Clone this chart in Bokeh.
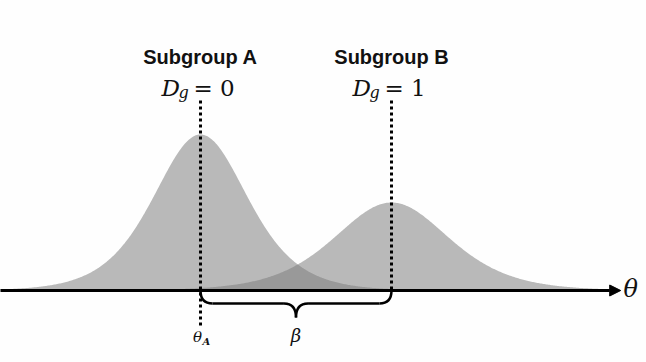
import numpy as np
from bokeh.plotting import figure
from bokeh.models import Range1d, Arrow, NormalHead
from bokeh.embed import file_html
from bokeh.resources import INLINE
from bokeh.core.properties import value

# ---- data (theta units) ----
group_names = ["Subgroup A", "Subgroup B"]
group_codes = ["0", "1"]
theta_A = 0.0
beta = 2.0
centers = [theta_A, theta_A + beta]
peak_heights = [1.0, 0.564]
spreads = [0.33, 0.403]          # logistic scale of each bell
theta_min, theta_max = -2.1, 4.40

# ---- figure ----
p = figure(width=646, height=362, output_backend="svg", toolbar_location=None,
           x_range=Range1d(-2.094, 4.670), y_range=Range1d(-0.4615, 1.859),
           min_border=0)
p.axis.visible = False
p.grid.visible = False
p.outline_line_color = None
p.background_fill_color = "#fefefe"
p.border_fill_color = "#fefefe"

theta = np.linspace(theta_min, 4.2, 600)
for c, h, s in zip(centers, peak_heights, spreads):
    dens = h / np.cosh((theta - c) / (2 * s)) ** 2
    p.varea(x=theta, y1=0, y2=dens, fill_color="#7e7e7e", fill_alpha=0.54)

# axis with arrow
p.add_layout(Arrow(end=NormalHead(size=11, fill_color="black", line_color="black", line_width=1),
                   x_start=theta_min, y_start=0, x_end=theta_max, y_end=0,
                   line_width=3, line_color="black"))
p.text(x=[theta_max + 0.03], y=[0.01], text=["θ"], text_font=value("DejaVu Serif"),
       text_font_style="italic", text_font_size="24px", text_align="left",
       text_baseline="middle", text_color="#111111")

# dotted guide lines
top = 1.218
p.segment(x0=centers, y0=[top, top], x1=centers, y1=[-0.224, 0.0],
          line_width=3, line_dash="3 3", line_color="black")

# group labels
p.text(x=centers, y=[1.50, 1.50], text=group_names, text_font=value("Liberation Sans"),
       text_font_style="bold", text_font_size="20px", text_align="center",
       text_baseline="middle", text_color="#111111")

base = 1.30
p.text(x=centers, y=[base, base], text=["D", "D"], x_offset=-39,
       text_font=value("DejaVu Serif"), text_font_style="italic", text_font_size="23px",
       text_align="left", text_baseline="alphabetic", text_color="#111111")
p.text(x=centers, y=[base, base], text=["g", "g"], x_offset=-22, y_offset=5,
       text_font=value("DejaVu Serif"), text_font_style="italic", text_font_size="16px",
       text_align="left", text_baseline="alphabetic", text_color="#111111")
p.text(x=centers, y=[base, base], text=["= " + g for g in group_codes], x_offset=-7,
       text_font=value("DejaVu Serif"), text_font_size="23px",
       text_align="left", text_baseline="alphabetic", text_color="#111111")

# brace for beta
xa, xb = centers
mid = (xa + xb) / 2
yh, ytip = -0.083, -0.173
r = 0.126
p.quadratic(x0=[xa, mid - r, mid + r, xb - r], y0=[0, yh, yh, yh],
            x1=[xa + r, mid, mid, xb], y1=[yh, ytip, ytip, 0],
            cx=[xa, mid, mid, xb], cy=[yh, yh, yh, yh],
            line_width=2.5, line_color="black")
p.segment(x0=[xa + r, mid + r], y0=[yh, yh], x1=[mid - r, xb - r], y1=[yh, yh],
          line_width=2.5, line_color="black")

p.text(x=[mid], y=[-0.29], text=["β"], text_font=value("DejaVu Serif"),
       text_font_style="italic", text_font_size="18px", text_align="center",
       text_baseline="middle", text_color="#111111")
p.text(x=[xa - 0.03], y=[-0.30], text=["θ"], text_font=value("DejaVu Serif"),
       text_font_style="italic", text_font_size="15px", text_align="center",
       text_baseline="middle", text_color="#111111")
p.text(x=[xa - 0.03], y=[-0.30], text=["A"], x_offset=5, y_offset=4,
       text_font=value("DejaVu Serif"), text_font_style="bold italic", text_font_size="10px",
       text_align="left", text_baseline="middle", text_color="#111111")

open("out.html", "w").write(file_html(p, INLINE))
